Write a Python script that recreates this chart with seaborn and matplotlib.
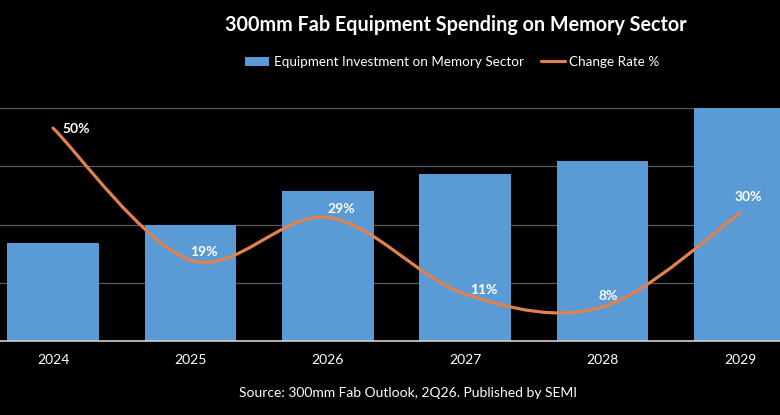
import matplotlib
matplotlib.use("Agg")
import matplotlib.pyplot as plt
from matplotlib.path import Path
from matplotlib.patches import PathPatch
from matplotlib.lines import Line2D
from matplotlib.patches import Patch
import seaborn as sns
import pandas as pd

# Data
years = ["2024", "2025", "2026", "2027", "2028", "2029"]
investment = [16.8, 20.0, 25.8, 28.6, 30.9, 40.2]   # relative bar heights
change_rate = [50, 19, 29, 11, 8, 30]                 # %
rate_labels = ["50%", "19%", "29%", "11%", "8%", "30%"]

# label offsets in points (manual placement like the original)
label_offsets = [(17, -1), (10, 6), (10, 6), (13, 3), (4, 8), (6, 12)]

BAR_BLUE = "#5B9BD5"
LINE_ORANGE = "#E0814E"
GRID = "#5a5a5a"

sns.set_theme(style="dark")
plt.rcParams["font.family"] = ["Lato", "DejaVu Sans"]

df = pd.DataFrame({"year": years, "investment": investment})

fig = plt.figure(figsize=(7.8, 4.15), dpi=100, facecolor="black")
ax = fig.add_axes([-0.0201, 0.1783, 1.057, 0.5614])
ax.set_facecolor("black")

sns.barplot(data=df, x="year", y="investment", color=BAR_BLUE, width=0.667,
            saturation=1, linewidth=0, edgecolor="none", ax=ax, zorder=2)
ax.set_xlim(-0.5, 5.5)
ax.set_ylim(0, 40)
ax.set_yticks([0, 10, 20, 30, 40])
ax.set_yticklabels([])
ax.tick_params(axis="y", length=0)
ax.tick_params(axis="x", length=0, colors="white", labelsize=10, pad=9)
ax.yaxis.grid(True, color=GRID, linewidth=0.9)
ax.xaxis.grid(False)
ax.set_axisbelow(True)
ax.set_xlabel("")
ax.set_ylabel("")
for side in ["top", "left", "right"]:
    ax.spines[side].set_visible(False)
ax.spines["bottom"].set_color("#d0d0d0")
ax.spines["bottom"].set_linewidth(1.2)

# secondary axis for the change rate, smoothed like Excel's line
ax2 = ax.twinx()
ax2.set_ylim(0, 54.7)
ax2.set_xlim(-0.5, 5.5)
ax2.axis("off")

pts = list(zip(range(len(change_rate)), change_rate))
verts = [pts[0]]
codes = [Path.MOVETO]
for i in range(len(pts) - 1):
    p0 = pts[max(i - 1, 0)]
    p1 = pts[i]
    p2 = pts[i + 1]
    p3 = pts[min(i + 2, len(pts) - 1)]
    c1 = (p1[0] + (p2[0] - p0[0]) / 6, p1[1] + (p2[1] - p0[1]) / 6)
    c2 = (p2[0] - (p3[0] - p1[0]) / 6, p2[1] - (p3[1] - p1[1]) / 6)
    verts += [c1, c2, p2]
    codes += [Path.CURVE4] * 3
ax2.add_patch(PathPatch(Path(verts, codes), facecolor="none",
                        edgecolor=LINE_ORANGE, linewidth=2.3,
                        capstyle="round", zorder=3))

for i, (v, lab) in enumerate(zip(change_rate, rate_labels)):
    ax2.annotate(lab, (i, v), xytext=label_offsets[i], textcoords="offset points",
                 ha="center", va="center", color="white", fontsize=10,
                 fontweight="bold", zorder=4)

fig.text(0.584, 0.94, "300mm Fab Equipment Spending on Memory Sector",
         ha="center", va="center", color="white", fontsize=14.2, fontweight="bold")

handles = [Patch(facecolor=BAR_BLUE, edgecolor="none"),
           Line2D([0], [0], color=LINE_ORANGE, linewidth=2.3)]
leg = fig.legend(handles, ["Equipment Investment on Memory Sector", "Change Rate %"],
                 loc="center", bbox_to_anchor=(0.58, 1 - 62 / 415), ncol=2,
                 frameon=False, fontsize=9.7, labelcolor="white",
                 handlelength=1.8, handletextpad=0.3, columnspacing=1.3)

fig.text(0.523, 1 - 393 / 415, "Source: 300mm Fab Outlook, 2Q26. Published by SEMI",
         ha="center", va="center", color="white", fontsize=10)

fig.savefig("out.png", dpi=100, facecolor="black")
